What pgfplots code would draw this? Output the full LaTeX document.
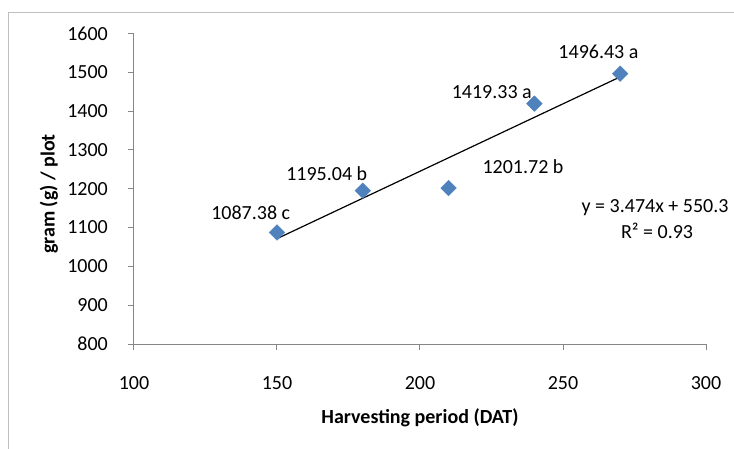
\documentclass[border=0pt]{standalone}
\usepackage{fontspec}
\setmainfont{Carlito}
\usepackage{pgfplots}
\pgfplotsset{compat=1.18}
\definecolor{mblue}{HTML}{4F81BD}
\definecolor{axgray}{HTML}{868686}
\definecolor{brd}{HTML}{BFBFBF}
\begin{document}
\begin{tikzpicture}[x=1pt,y=1pt]
\useasboundingbox (-134,-104) rectangle (600,344);
\draw[brd, line width=1.2pt] (-125.7,-130) rectangle (640,331.3);
\begin{axis}[
  at={(0,0)}, anchor=south west,
  scale only axis, width=572pt, height=310.5pt,
  xmin=100, xmax=300, ymin=800, ymax=1600,
  axis x line*=bottom, axis y line*=left,
  xtick={100,150,...,300}, ytick={800,900,...,1600},
  tick align=outside, major tick length=6pt,
  tick style={axgray, line width=1pt},
  axis line style={axgray, line width=1pt},
  /pgf/number format/assume math mode=true,
  /pgf/number format/1000 sep={},
  tick label style={font=\fontsize{20}{24}\selectfont, black, inner sep=0pt},
  xticklabel style={anchor=base, yshift=-39pt},
  yticklabel style={anchor=east, xshift=-20pt},
  xlabel={Harvesting period (DAT)},
  ylabel={gram (g) / plot},
  every axis x label/.style={at={(axis description cs:0.5,-0.238)}, anchor=center, font=\fontsize{20}{24}\selectfont\bfseries, black},
  every axis y label/.style={at={(axis description cs:-0.1486,0.483)}, anchor=center, rotate=90, font=\fontsize{20}{24}\selectfont\bfseries, black},
  clip=false,
]
\addplot[black, line width=1.2pt] coordinates {(150,1071.4) (270,1488.28)};
\addplot[only marks, mark=square*, mark size=5.5pt, mark options={rotate=45, fill=mblue, draw=mblue}]
  coordinates {(150,1087.38) (180,1195.04) (210,1201.72) (240,1419.33) (270,1496.43)};
\begin{scope}[every node/.style={font=\fontsize{20}{24}\selectfont, black, inner sep=0pt}]
\node at (axis cs:140.8,1139) {1087.38 c};
\node at (axis cs:167.4,1239) {1195.04 b};
\node at (axis cs:236,1257) {1201.72 b};
\node at (axis cs:225.1,1448) {1419.33 a};
\node at (axis cs:262.4,1553) {1496.43 a};
\node at (axis cs:282.2,1151.8) {y = 3.474x + 550.3};
\node at (axis cs:282.9,1091) {R² = 0.93};
\end{scope}
\end{axis}
\end{tikzpicture}
\end{document}
